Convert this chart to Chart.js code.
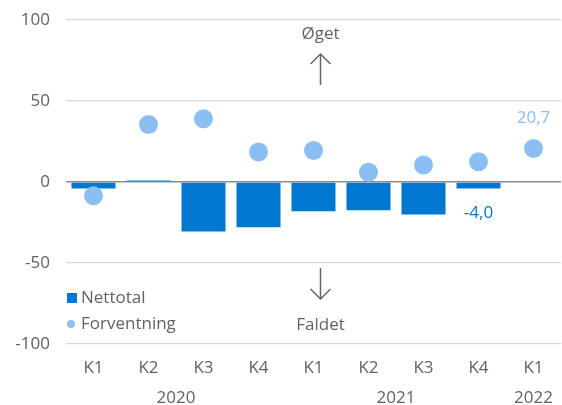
<!DOCTYPE html>
<html>
<head>
<meta charset="utf-8">
<script src="https://cdn.jsdelivr.net/npm/chart.js@4"></script>
<style>
  html, body { margin: 0; padding: 0; background: #fff; }
  #wrap { width: 562px; height: 405px; }
</style>
</head>
<body>
<div id="wrap"><canvas id="chart"></canvas></div>
<script>
const quarters = ['K1', 'K2', 'K3', 'K4', 'K1', 'K2', 'K3', 'K4', 'K1']
const years = [['2020', 0, 3], ['2021', 4, 7], ['2022', 8, 8]]
const nettotal = [-4, 1, -30.5, -28, -18, -17.5, -20, -4.0, null]
const forventning = [-8.5, 35.5, 39, 18.5, 19.5, 6, 10.5, 12.5, 20.7]
const yTicks = [-100, -50, 0, 50, 100]

const FONT = '"Open Sans", Lato, sans-serif'
const FSIZE = 17
const TXT = '#626262'
const DARK = '#0078D2'
const LIGHT = '#8BBFF3'

const extras = {
  id: 'extras',
  afterDraw (chart) {
    const ctx = chart.ctx
    const x = chart.scales.x
    const area = chart.chartArea
    ctx.save()
    ctx.font = FSIZE + 'px ' + FONT
    ctx.textAlign = 'center'
    ctx.textBaseline = 'middle'

    // year labels under the quarters
    ctx.fillStyle = TXT
    years.forEach(([label, a, b]) => {
      const cx = (x.getPixelForValue(a) + x.getPixelForValue(b)) / 2
      ctx.fillText(label, cx, 398)
    })

    // value labels
    const pts = chart.getDatasetMeta(1).data
    const bars = chart.getDatasetMeta(0).data
    ctx.fillStyle = LIGHT
    ctx.fillText('20,7', pts[8].x, pts[8].y - 30)
    ctx.fillStyle = DARK
    ctx.fillText('-4,0', bars[7].x, bars[7].y + 25)

    // direction annotations
    const ax = x.getPixelForValue(4) + 7
    ctx.fillStyle = TXT
    ctx.fillText('Øget', ax, 34)
    ctx.fillText('Faldet', ax, 325)
    ctx.strokeStyle = '#666'
    ctx.lineWidth = 1.5
    ctx.beginPath()
    ctx.moveTo(ax, 85); ctx.lineTo(ax, 54)
    ctx.moveTo(ax - 10, 64); ctx.lineTo(ax, 54); ctx.lineTo(ax + 10, 64)
    ctx.moveTo(ax, 268); ctx.lineTo(ax, 299)
    ctx.moveTo(ax - 10, 289); ctx.lineTo(ax, 299); ctx.lineTo(ax + 10, 289)
    ctx.stroke()

    // legend inside plot
    ctx.textAlign = 'left'
    ctx.fillStyle = DARK
    ctx.fillRect(area.left + 1, 293, 10, 10)
    ctx.fillStyle = LIGHT
    ctx.beginPath()
    ctx.arc(area.left + 5, 324, 4, 0, Math.PI * 2)
    ctx.fill()
    ctx.fillStyle = TXT
    ctx.fillText('Nettotal', area.left + 15, 298)
    ctx.fillText('Forventning', area.left + 15, 324)
    ctx.restore()
  }
}

new Chart(document.getElementById('chart'), {
  data: {
    labels: quarters,
    datasets: [
      {
        type: 'bar',
        label: 'Nettotal',
        data: nettotal,
        backgroundColor: DARK,
        categoryPercentage: 1,
        barPercentage: 0.8,
        order: 2
      },
      {
        type: 'line',
        label: 'Forventning',
        data: forventning,
        showLine: false,
        pointRadius: 9.5,
        pointHoverRadius: 9.5,
        pointBackgroundColor: LIGHT,
        pointBorderWidth: 0,
        order: 1
      }
    ]
  },
  options: {
    responsive: true,
    maintainAspectRatio: false,
    animation: false,
    layout: { autoPadding: false, padding: { top: 20, right: 1, left: 0, bottom: 0 } },
    plugins: { legend: { display: false }, tooltip: { enabled: false } },
    scales: {
      x: {
        grid: { display: false },
        border: { display: false },
        ticks: { color: TXT, font: { family: FONT, size: FSIZE }, padding: 6 },
        afterFit (scale) {
          scale.height = 61
          scale.paddingLeft = 0
          scale.paddingRight = 0
        }
      },
      y: {
        min: -100,
        max: 100,
        afterBuildTicks (scale) { scale.ticks = yTicks.map(v => ({ value: v })) },
        grid: {
          color: c => c.tick.value === 0 ? '#8c8c8c' : '#d9d9d9',
          lineWidth: c => c.tick.value === 0 ? 1.5 : 1.2,
          drawTicks: false
        },
        border: { display: false },
        ticks: { color: TXT, font: { family: FONT, size: FSIZE }, padding: 16 },
        afterFit (scale) {
          scale.width = 66
          scale.paddingTop = 0
          scale.paddingBottom = 0
        }
      }
    }
  },
  plugins: [extras]
})
</script>
</body>
</html>
